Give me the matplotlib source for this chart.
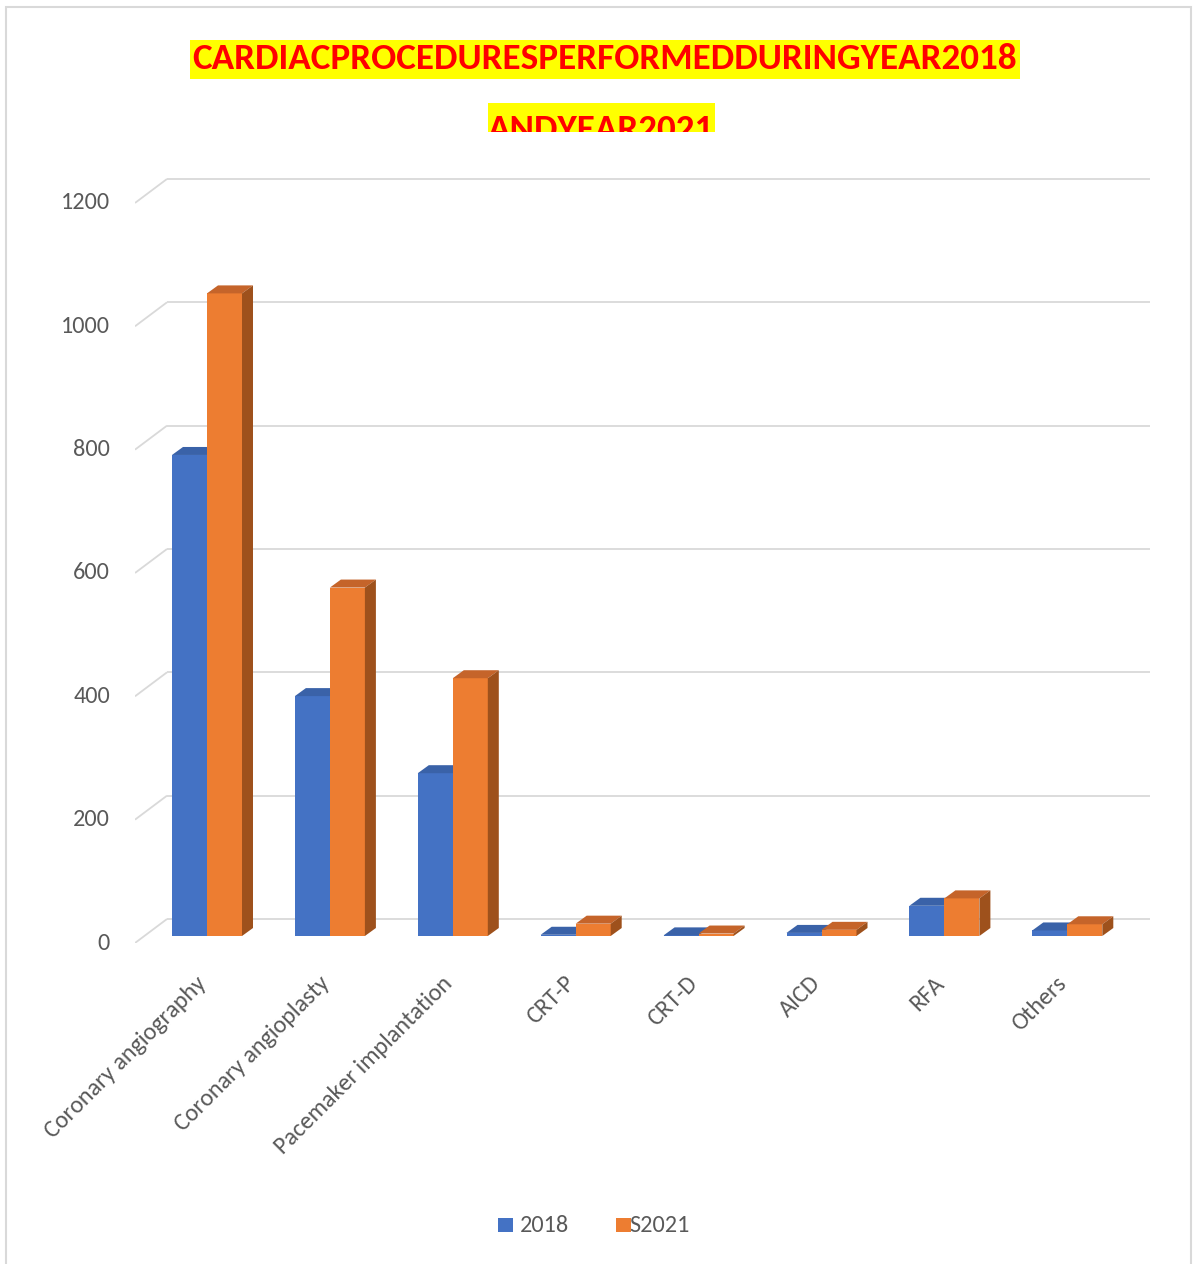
import matplotlib
matplotlib.use("Agg")
import matplotlib.pyplot as plt
from matplotlib import font_manager
from matplotlib.patches import Polygon, Rectangle

# Data
categories = ["Coronary angiography", "Coronary angioplasty", "Pacemaker implantation",
              "CRT-P", "CRT-D", "AICD", "RFA", "Others"]
series_names = ["2018", "S2021"]
values_2018 = [780, 389, 264, 2, 1, 5, 49, 9]
values_2021 = [1042, 565, 418, 20, 4, 10, 61, 19]
y_ticks = [0, 200, 400, 600, 800, 1000, 1200]
title_line1 = "CARDIACPROCEDURESPERFORMEDDURINGYEAR2018"
title_line2 = "ANDYEAR2021"

# Colors
blue, blue_top = "#4472C4", "#3A62A8"
orange, orange_top, orange_side = "#ED7D31", "#C5642A", "#9E511C"
grid_col = "#D9D9D9"
text_col = "#595959"

names = {f.name for f in font_manager.fontManager.ttflist}
body_font = "Carlito" if "Carlito" in names else "Open Sans"
title_font = "Carlito" if "Carlito" in names else "Lato"
body_size = 17.5

W, H = 1193, 1264
fig = plt.figure(figsize=(W / 100, H / 100), dpi=100)

# layout in pixels (top-left origin)
px_left, px_right, px_bottom, px_top = 135, 1150, 943, 170
cat_px, cat0_px = 122.9, 207
y0_px, y_scale = 936, 0.6167

ax = fig.add_axes([px_left / W, 1 - px_bottom / H,
                   (px_right - px_left) / W, (px_bottom - px_top) / H])
ax.set_xlim((px_left - cat0_px) / cat_px, (px_right - cat0_px) / cat_px)
ax.set_ylim((y0_px - px_bottom) / y_scale, (y0_px - px_top) / y_scale)
ax.axis("off")

front_off = 7 / y_scale
back_off = 17 / y_scale
x_back = (167 - cat0_px) / cat_px
x_front = ax.get_xlim()[0]

# back wall gridlines with the little diagonal on the left
for v in y_ticks:
    ax.plot([x_front, x_back], [v - front_off, v + back_off], color=grid_col, lw=1.3, zorder=0,
            solid_capstyle="butt")
    ax.plot([x_back, ax.get_xlim()[1]], [v + back_off, v + back_off], color=grid_col, lw=1.3,
            zorder=0, solid_capstyle="butt")
    ax.text(x_front - 25 / cat_px, v - front_off, str(v), ha="right", va="center",
            fontsize=body_size, color=text_col, family=body_font)

# pseudo 3D bars
w = 35 / cat_px
dx = 11 / cat_px
dy = 8 / y_scale
xs = list(range(len(categories)))
ax.bar([x - w / 2 for x in xs], values_2018, w, color=blue, zorder=2, linewidth=0)
ax.bar([x + w / 2 for x in xs], values_2021, w, color=orange, zorder=4, linewidth=0)
for x, v in zip(xs, values_2018):
    l, r = x - w, x
    ax.add_patch(Polygon([(l, v), (l + dx, v + dy), (r + dx, v + dy), (r, v)],
                         closed=True, color=blue_top, lw=0, zorder=3))
for x, v in zip(xs, values_2021):
    l, r = x, x + w
    ax.add_patch(Polygon([(l, v), (l + dx, v + dy), (r + dx, v + dy), (r, v)],
                         closed=True, color=orange_top, lw=0, zorder=5))
    ax.add_patch(Polygon([(r, 0), (r + dx, dy), (r + dx, v + dy), (r, v)],
                         closed=True, color=orange_side, lw=0, zorder=5))

# category labels
for x, lab in zip(xs, categories):
    ax.text(x - 4 / cat_px, -(980 - y0_px) / y_scale, lab, rotation=45, ha="right", va="center",
            rotation_mode="anchor", fontsize=body_size, color=text_col, family=body_font)

# outer chart border
fig.add_artist(Rectangle((6 / W, 1 - 1270 / H), (1191 - 6) / W, (1270 - 7) / H,
                         transform=fig.transFigure, fill=False, ec="#D9D9D9", lw=1.5))

# title with yellow highlight
fig.add_artist(Rectangle((190 / W, 1 - 79 / H), 830 / W, 39 / H, transform=fig.transFigure,
                         color="#FFFF00", lw=0))
fig.add_artist(Rectangle((488 / W, 1 - 132 / H), 227 / W, 29 / H, transform=fig.transFigure,
                         color="#FFFF00", lw=0))
t1 = fig.text(605 / W, 1 - 69 / H, title_line1, ha="center", va="baseline", color="#FF0000",
              fontsize=24, fontweight="bold", family=title_font)
fig.canvas.draw()
bb = t1.get_window_extent()
t1.set_fontsize(24 * 826 / bb.width)
t2 = fig.text(601 / W, 1 - 140 / H, title_line2, ha="center", va="baseline", color="#FF0000",
              fontsize=t1.get_fontsize(), fontweight="bold", family=title_font)
clip = Rectangle((0, 1 - 132 / H), 1, 40 / H, transform=fig.transFigure)
t2.set_clip_path(clip)

# legend drawn by hand
for sx, col, name, tx in [(498, blue, series_names[0], 520), (616, orange, series_names[1], 629)]:
    fig.text(tx / W, 1 - 1225 / H, name, ha="left", va="center", fontsize=body_size,
             color=text_col, family=body_font)
    fig.add_artist(Rectangle((sx / W, 1 - 1232 / H), 15 / W, 14 / H,
                             transform=fig.transFigure, color=col, lw=0, zorder=5))

fig.savefig("out.png", dpi=100)
